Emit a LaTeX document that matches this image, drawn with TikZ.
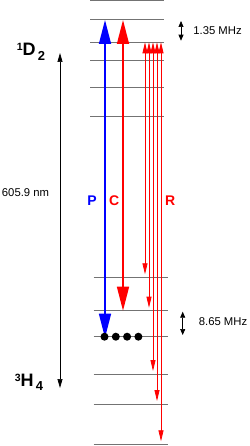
\documentclass[tikz,border=0pt]{standalone}
\usepackage{fontspec}
\setmainfont{Liberation Sans}
\usetikzlibrary{arrows.meta, calc}

\begin{document}
\begin{tikzpicture}[
    x=1pt, y=-1pt,
    >={Triangle[width=5pt,length=9pt]},
    level/.style    ={draw=black!55, line width=1pt},
    pumpline/.style ={{Triangle[width=12pt,length=24pt]}-{Triangle[width=12pt,length=24pt]},
                      line width=1.5pt, blue},
    cleanline/.style={pumpline, red},
    readline/.style ={{Triangle[width=5pt,length=11pt]}-{Triangle[width=5pt,length=11pt]},
                      line width=0.8pt, red, shorten >=3pt},
    span/.style     ={<->, line width=0.7pt},
    gap/.style      ={{Triangle[width=5pt,length=6pt]}-{Triangle[width=5pt,length=6pt]},
                      line width=0.7pt},
    term/.style     ={font=\bfseries, inner sep=0pt},
    tag/.style      ={font=\fontsize{14}{14}\selectfont\bfseries, inner sep=0pt},
    note/.style     ={font=\fontsize{11.3}{12}\selectfont, inner sep=0pt},
    dot/.style      ={circle, fill=black, inner sep=0pt, minimum size=8pt},
]
\useasboundingbox (0,0) rectangle (249,446);
% hyperfine levels
\foreach \name/\y in {u1/1, u2/20, u3/42.3, u4/61, u5/87.3, u6/116.7}
    \draw[level] (90,\y) coordinate (\name) -- (164,\y);
\foreach \name/\y in {l1/277.3, l2/310.7, l3/336.7, l4/374, l5/404, l6/444.3}
    \draw[level] (93.5,\y) coordinate (\name) -- (168,\y);
% columns of the transitions
\coordinate (colP) at (105,0);
\coordinate (colC) at (123,0);
\foreach \i in {1,...,5}
    \coordinate (colR\i) at ({141+4*\i},0);
% terms and optical transition
\node[term] (d2) at (31,52)
    {\raisebox{5pt}{\fontsize{10.5}{10}\selectfont 1}\fontsize{18}{18}\selectfont D\raisebox{-4.5pt}{\fontsize{13}{13}\selectfont\,2}};
\node[term] (h4) at (29,382.5)
    {\raisebox{5pt}{\fontsize{10.5}{10}\selectfont 3}\fontsize{18}{18}\selectfont H\raisebox{-4.5pt}{\fontsize{13}{13}\selectfont\,4}};
\coordinate (optTop) at (60,53);
\coordinate (optBot) at (60,388);
\draw[span] (optBot) -- (optTop);
\node[note] (wl) at (25.5,193) {605.9 nm};
% pump, clean and readout
\draw[pumpline] (colP |- u2) -- ([yshift=-1pt]colP |- l3);
\draw[cleanline] (colC |- u2) -- (colC |- l2);
\draw[readline] (colR1 |- u3) -- (colR1 |- l1);
\draw[readline] (colR2 |- u3) -- (colR2 |- l2);
\draw[readline] (colR3 |- u3) -- (colR3 |- l4);
\draw[readline] (colR4 |- u3) -- (colR4 |- l5);
\draw[readline] (colR5 |- u3) -- (colR5 |- l6);
\node[tag, blue] (labP) at (92,201) {P};
\node[tag, red]  (labC) at (114.2,201) {C};
\node[tag, red]  (labR) at (170.3,201) {R};
% spectral hole population
\foreach \i in {0,...,3}
    \node[dot] (dot\i) at ({104.5+11.3*\i},336.7) {};
% splittings
\coordinate (upA) at (181,21);
\coordinate (upB) at (181,40.7);
\draw[gap] (upA) -- (upB);
\node[note] (upSplit) at (217.5,31) {1.35 MHz};
\coordinate (loA) at (182.7,311.7);
\coordinate (loB) at (182.7,335);
\draw[gap] (loA) -- (loB);
\node[note] (loSplit) at (223,322) {8.65 MHz};
\end{tikzpicture}
\end{document}
